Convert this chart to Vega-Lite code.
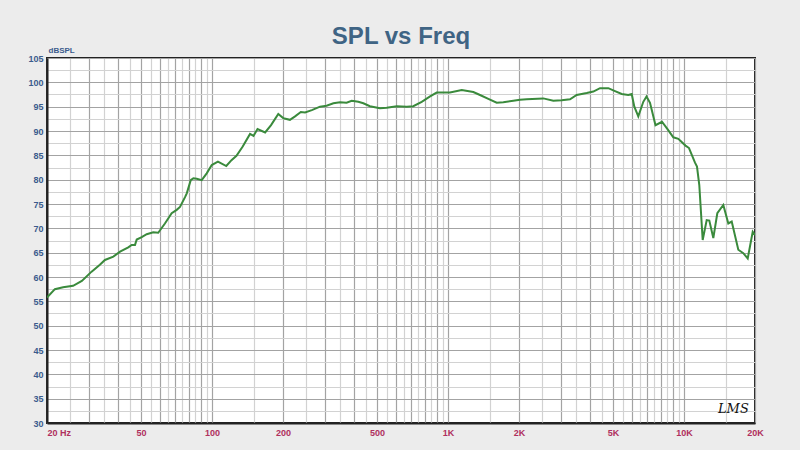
{
  "$schema": "https://vega.github.io/schema/vega-lite/v6.json",
  "width": 708,
  "height": 365,
  "autosize": {"type": "none"},
  "padding": {"left": 47, "top": 58, "right": 45, "bottom": 27},
  "background": "#ececec",
  "title": {
    "text": "SPL vs Freq",
    "font": "Liberation Sans",
    "fontSize": 24,
    "fontWeight": "bold",
    "color": "#3f6484",
    "anchor": "middle",
    "offset": -3
  },
  "config": {
    "view": {"fill": "white", "stroke": "#222222", "strokeWidth": 2},
    "axis": {"labelFont": "Liberation Sans", "titleFont": "Liberation Sans"}
  },
  "encoding": {
    "x": {
      "field": "freq",
      "type": "quantitative",
      "scale": {"type": "log", "domain": [20, 20000], "nice": false, "zero": false},
      "axis": {
        "title": null,
        "values": [20,25,30,35,40,45,50,55,60,65,70,75,80,85,90,95,100,150,200,250,300,350,400,450,500,550,600,650,700,750,800,850,900,950,1000,1500,2000,2500,3000,3500,4000,4500,5000,5500,6000,6500,7000,7500,8000,8500,9000,9500,10000,15000,20000],
        "labelExpr": "datum.value == 20 ? '20  Hz' : datum.value == 50 ? '50' : datum.value == 100 ? '100' : datum.value == 200 ? '200' : datum.value == 500 ? '500' : datum.value == 1000 ? '1K' : datum.value == 2000 ? '2K' : datum.value == 5000 ? '5K' : datum.value == 10000 ? '10K' : datum.value == 20000 ? '20K' : ''",
        "labelOverlap": false,
        "labelFlush": false,
        "labelBound": false,
        "labelAlign": {"condition": {"test": "datum.value == 20", "value": "left"}, "value": "center"},
        "labelColor": "#b0305e",
        "labelFontSize": 9,
        "labelFontWeight": "bold",
        "labelPadding": 5,
        "ticks": false,
        "domainColor": "#222222",
        "domainWidth": 2,
        "grid": true,
        "gridColor": {"condition": {"test": "(datum.value / pow(10, floor(log(datum.value) / LN10))) % 1 === 0", "value": "#a3a3a3"}, "value": "#d2d2d2"},
        "gridWidth": 1.2,
        "gridOpacity": 1
      }
    },
    "y": {
      "field": "db",
      "type": "quantitative",
      "scale": {"domain": [30, 105], "nice": false, "zero": false},
      "axis": {
        "title": "dBSPL",
        "titleAngle": 0,
        "titleAlign": "left",
        "titleBaseline": "bottom",
        "titleX": 1,
        "titleY": -4,
        "titleFontSize": 8,
        "titleFontWeight": "bold",
        "titleColor": "#3b5b8c",
        "values": [30,32.5,35,37.5,40,42.5,45,47.5,50,52.5,55,57.5,60,62.5,65,67.5,70,72.5,75,77.5,80,82.5,85,87.5,90,92.5,95,97.5,100,102.5,105],
        "labelExpr": "datum.value % 5 === 0 ? datum.value : ''",
        "labelOverlap": false,
        "labelFlush": false,
        "labelBound": false,
        "labelColor": "#3b5b8c",
        "labelFontSize": 9,
        "labelFontWeight": "bold",
        "labelPadding": 4,
        "ticks": false,
        "domainColor": "#222222",
        "domainWidth": 2,
        "grid": true,
        "gridColor": {"condition": {"test": "datum.value % 5 === 0", "value": "#a3a3a3"}, "value": "#d2d2d2"},
        "gridWidth": 1.2,
        "gridOpacity": 1
      }
    }
  },
  "layer": [
    {
      "data": {
        "values": [
          {"freq": 20, "db": 55.8},
          {"freq": 21.6, "db": 57.5},
          {"freq": 23.4, "db": 57.9},
          {"freq": 25.8, "db": 58.2},
          {"freq": 28.1, "db": 59.2},
          {"freq": 30.9, "db": 61.1},
          {"freq": 33.5, "db": 62.5},
          {"freq": 35.2, "db": 63.5},
          {"freq": 38.2, "db": 64.2},
          {"freq": 40.8, "db": 65.2},
          {"freq": 44.2, "db": 66.1},
          {"freq": 45.7, "db": 66.6},
          {"freq": 47.2, "db": 66.6},
          {"freq": 48.0, "db": 67.7},
          {"freq": 50.4, "db": 68.2},
          {"freq": 52.9, "db": 68.8},
          {"freq": 56.4, "db": 69.2},
          {"freq": 59.2, "db": 69.1},
          {"freq": 63.2, "db": 71.0},
          {"freq": 67.5, "db": 73.1},
          {"freq": 70.9, "db": 73.8},
          {"freq": 73.2, "db": 74.4},
          {"freq": 76.9, "db": 76.4},
          {"freq": 78.2, "db": 77.2},
          {"freq": 81.3, "db": 79.9},
          {"freq": 83.4, "db": 80.3},
          {"freq": 86.2, "db": 80.2},
          {"freq": 90.5, "db": 79.9},
          {"freq": 95.0, "db": 81.3},
          {"freq": 99.8, "db": 83.0},
          {"freq": 106, "db": 83.7},
          {"freq": 115, "db": 82.8},
          {"freq": 121, "db": 84.0},
          {"freq": 127, "db": 84.9},
          {"freq": 135, "db": 86.8},
          {"freq": 145, "db": 89.4},
          {"freq": 150, "db": 89.0},
          {"freq": 156, "db": 90.4},
          {"freq": 168, "db": 89.7},
          {"freq": 178, "db": 91.2},
          {"freq": 191, "db": 93.5},
          {"freq": 201, "db": 92.6},
          {"freq": 214, "db": 92.3},
          {"freq": 225, "db": 93.0},
          {"freq": 238, "db": 93.9},
          {"freq": 248, "db": 93.8},
          {"freq": 265, "db": 94.3},
          {"freq": 287, "db": 95.0},
          {"freq": 306, "db": 95.2},
          {"freq": 327, "db": 95.7},
          {"freq": 349, "db": 95.9},
          {"freq": 372, "db": 95.8},
          {"freq": 391, "db": 96.2},
          {"freq": 417, "db": 96.0},
          {"freq": 438, "db": 95.7},
          {"freq": 467, "db": 95.1},
          {"freq": 515, "db": 94.7},
          {"freq": 550, "db": 94.8},
          {"freq": 607, "db": 95.1},
          {"freq": 669, "db": 95.0},
          {"freq": 713, "db": 95.1},
          {"freq": 774, "db": 96.0},
          {"freq": 840, "db": 97.1},
          {"freq": 896, "db": 97.9},
          {"freq": 1020, "db": 97.9},
          {"freq": 1144, "db": 98.4},
          {"freq": 1281, "db": 98.0},
          {"freq": 1367, "db": 97.4},
          {"freq": 1483, "db": 96.6},
          {"freq": 1609, "db": 95.8},
          {"freq": 1716, "db": 95.9},
          {"freq": 1892, "db": 96.2},
          {"freq": 2019, "db": 96.4},
          {"freq": 2156, "db": 96.5},
          {"freq": 2535, "db": 96.7},
          {"freq": 2795, "db": 96.2},
          {"freq": 3034, "db": 96.3},
          {"freq": 3290, "db": 96.5},
          {"freq": 3512, "db": 97.4},
          {"freq": 3872, "db": 97.8},
          {"freq": 4130, "db": 98.1},
          {"freq": 4408, "db": 98.8},
          {"freq": 4780, "db": 98.8},
          {"freq": 5103, "db": 98.2},
          {"freq": 5448, "db": 97.6},
          {"freq": 5810, "db": 97.4},
          {"freq": 6006, "db": 97.6},
          {"freq": 6162, "db": 95.0},
          {"freq": 6405, "db": 93.0},
          {"freq": 6726, "db": 96.0},
          {"freq": 6940, "db": 97.1},
          {"freq": 7180, "db": 95.8},
          {"freq": 7576, "db": 91.2},
          {"freq": 8072, "db": 91.9},
          {"freq": 8516, "db": 90.4},
          {"freq": 9014, "db": 88.7},
          {"freq": 9464, "db": 88.4},
          {"freq": 10152, "db": 87.0},
          {"freq": 10504, "db": 86.5},
          {"freq": 11138, "db": 83.5},
          {"freq": 11356, "db": 82.7},
          {"freq": 11614, "db": 78.9},
          {"freq": 12006, "db": 67.6},
          {"freq": 12484, "db": 71.7},
          {"freq": 12806, "db": 71.6},
          {"freq": 13316, "db": 68.0},
          {"freq": 13846, "db": 73.1},
          {"freq": 14682, "db": 74.8},
          {"freq": 15416, "db": 71.0},
          {"freq": 15936, "db": 71.4},
          {"freq": 16994, "db": 65.6},
          {"freq": 17844, "db": 64.9},
          {"freq": 18628, "db": 63.8},
          {"freq": 19558, "db": 69.3},
          {"freq": 20000, "db": 68.6}
        ]
      },
      "mark": {"type": "line", "color": "#3a8a3c", "strokeWidth": 2, "clip": true}
    },
    {
      "data": {"values": [{"freq": 16200, "db": 32.8, "label": "LMS"}]},
      "mark": {"type": "text", "font": "DejaVu Serif", "fontStyle": "italic", "fontSize": 13, "color": "#111111", "align": "center", "baseline": "middle"},
      "encoding": {"text": {"field": "label"}}
    }
  ]
}
